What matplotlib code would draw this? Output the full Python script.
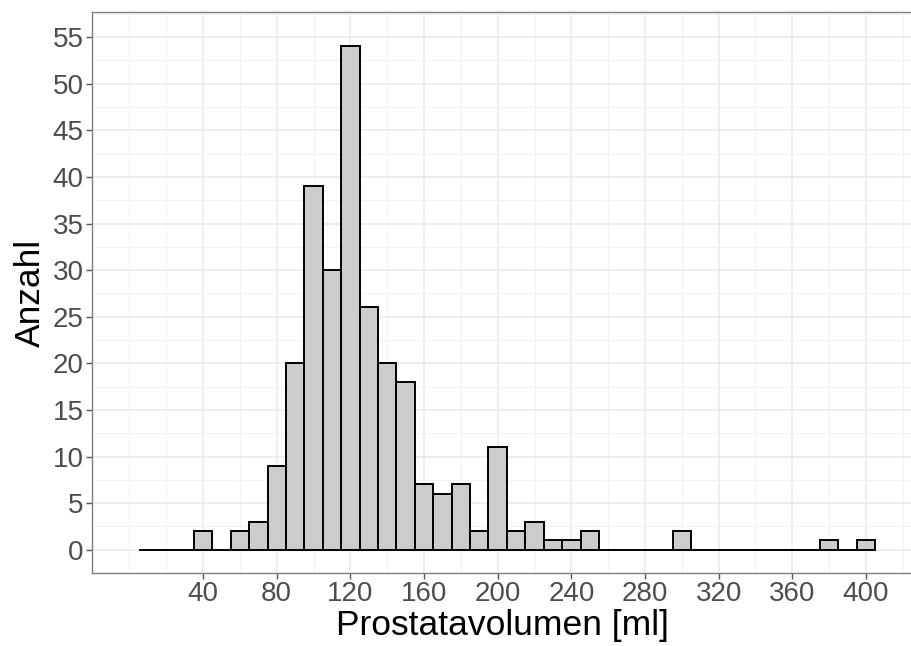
import numpy as np
import matplotlib
matplotlib.use("Agg")
import matplotlib.pyplot as plt

plt.rcParams['font.family'] = ['Liberation Sans', 'DejaVu Sans']

# Histogramm: Klassenmitten (Breite 10) und Anzahl
mitten = [10, 20, 30, 40, 50, 60, 70, 80, 90, 100,
          110, 120, 130, 140, 150, 160, 170, 180, 190, 200,
          210, 220, 230, 240, 250, 260, 270, 280, 290, 300,
          310, 320, 330, 340, 350, 360, 370, 380, 390, 400]
anzahl = [0, 0, 0, 2, 0, 2, 3, 9, 20, 39,
          30, 54, 26, 20, 18, 7, 6, 7, 2, 11,
          2, 3, 1, 1, 2, 0, 0, 0, 0, 2,
          0, 0, 0, 0, 0, 0, 0, 1, 0, 1]
x_ticks = [40, 80, 120, 160, 200, 240, 280, 320, 360, 400]
y_ticks = [0, 5, 10, 15, 20, 25, 30, 35, 40, 45, 50, 55]

fig = plt.figure(figsize=(9.12, 6.46), dpi=100)
ax = fig.add_axes([0.1009, 0.113, 0.8991, 0.8684])

ax.bar(mitten, anzahl, width=10, color="#CCCCCC", edgecolor="black",
       linewidth=1.4, zorder=3)

ax.set_xlim(-20.3, 425)
ax.set_ylim(-2.5, 57.7)

ax.set_xticks(x_ticks)
ax.set_yticks(y_ticks)
ax.set_xticks([0, 20] + list(range(60, 440, 40)), minor=True)
ax.set_yticks(np.arange(2.5, 60, 5), minor=True)

ax.grid(which="major", color="#EBEBEB", linewidth=1.2, zorder=0)
ax.grid(which="minor", color="#F2F2F2", linewidth=0.8, zorder=0)
ax.set_axisbelow(True)

for s in ["left", "top", "bottom"]:
    ax.spines[s].set_color("#7F7F7F")
    ax.spines[s].set_linewidth(1.0)
ax.spines["right"].set_visible(False)

ax.tick_params(which="major", length=4, width=1, color="#555555",
               labelsize=20, labelcolor="#4D4D4D", pad=2)
ax.tick_params(which="minor", length=0)

ax.set_xlabel("Prostatavolumen [ml]", fontsize=25.5, color="black", labelpad=1)
ax.set_ylabel("Anzahl", fontsize=25.5, color="black", labelpad=4)

fig.savefig("out.png", dpi=100)
